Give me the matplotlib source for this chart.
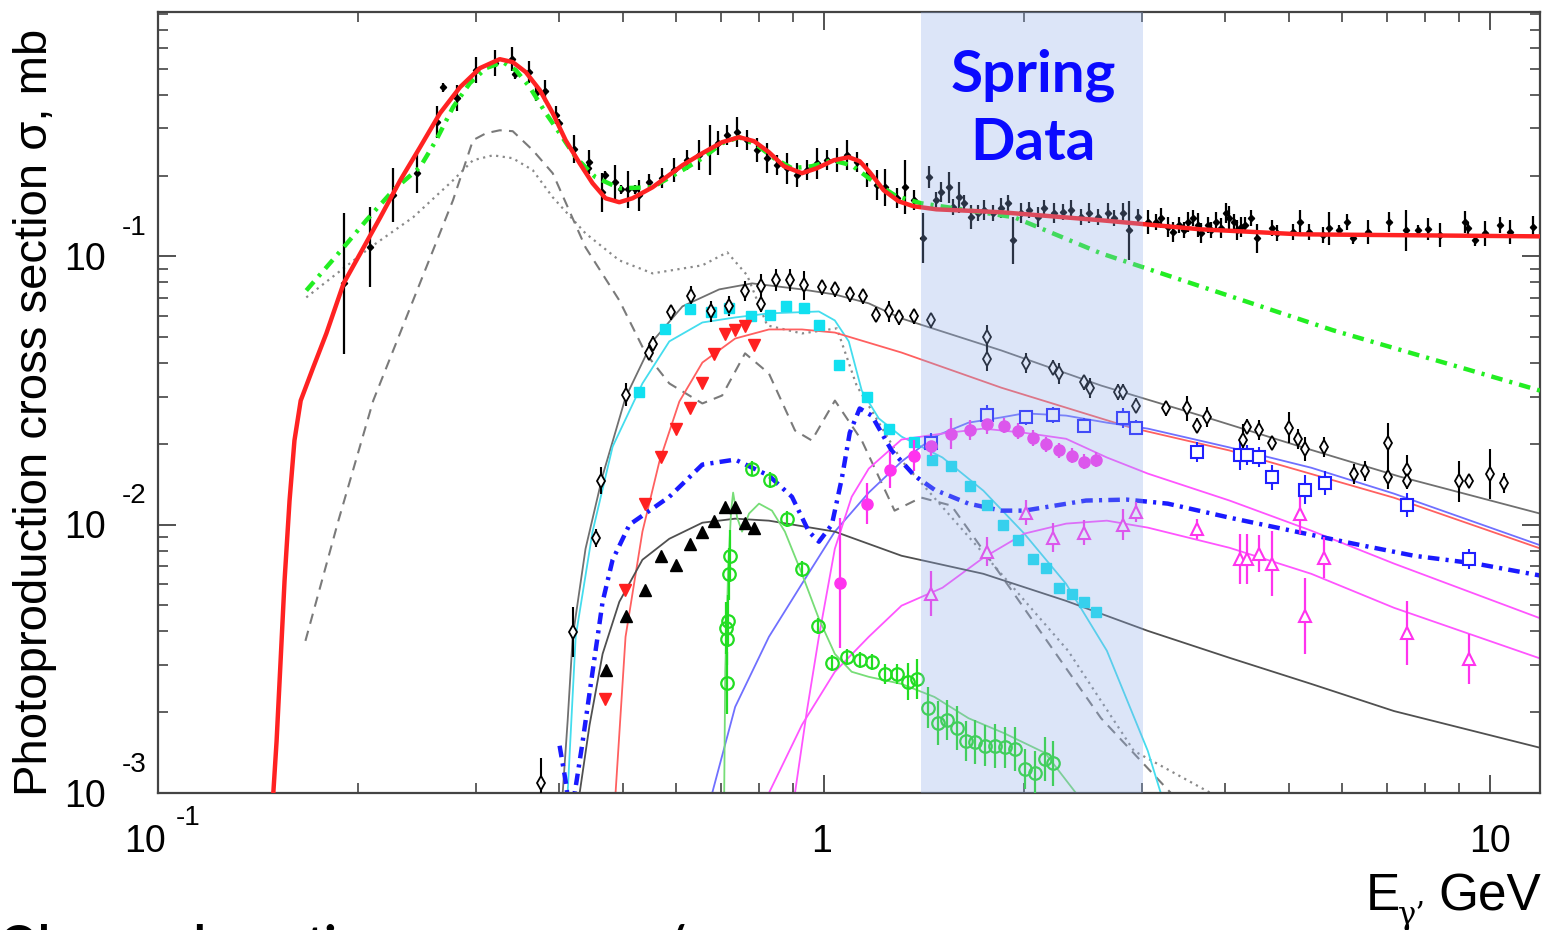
import numpy as np
import matplotlib
matplotlib.use('Agg')
import matplotlib.pyplot as plt

# ---------------- data (E in GeV, sigma in mb) ----------------
# total photoabsorption points
tot_e = [0.190, 0.2084, 0.2256, 0.245, 0.2625, 0.268, 0.2812, 0.3003, 0.3206, 0.34,
         0.3435, 0.3604, 0.3693, 0.3809, 0.3956, 0.3997, 0.4208, 0.4432, 0.4417, 0.4636,
         0.4686, 0.485, 0.4952, 0.5073, 0.5197, 0.5285, 0.547,
         0.572, 0.596, 0.6235, 0.65, 0.675, 0.694, 0.716, 0.741, 0.767, 0.794,
         0.822, 0.850, 0.880, 0.911, 0.943, 0.976, 1.010, 1.046, 1.082, 1.121,
         1.160, 1.200, 1.234, 1.286, 1.322, 1.368,
         1.411, 1.441, 1.476, 1.502, 1.539, 1.565, 1.598, 1.626, 1.666, 1.706,
         1.742, 1.797, 1.847, 1.892, 1.925, 1.979, 2.034, 2.098, 2.142, 2.217,
         2.287, 2.351, 2.433, 2.502, 2.581, 2.672, 2.727, 2.812, 2.871, 2.962,
         3.066, 3.152, 3.206, 3.285, 3.342, 3.412, 3.47, 3.519, 3.58, 3.642,
         3.681, 3.771, 3.81, 3.876, 3.943, 4.012, 4.053, 4.124, 4.18, 4.225,
         4.297, 4.373, 4.465, 4.717, 4.799, 5.072, 5.195, 5.358, 5.623, 5.741,
         5.943, 6.109, 6.237, 6.567, 7.06, 7.485, 7.802, 8.076, 8.417, 9.175,
         9.271, 9.496, 9.829, 10.35, 10.71, 11.6]
tot_s = [0.0793, 0.108, 0.1689, 0.2041, 0.3162, 0.427, 0.3887, 0.494, 0.525, 0.543,
         0.4776, 0.486, 0.4057, 0.4128, 0.3358, 0.3135, 0.2507, 0.2242, 0.213, 0.1733,
         0.2006, 0.1888, 0.1778, 0.1778, 0.1778, 0.1689, 0.1888,
         0.1954, 0.2094, 0.2281, 0.2382, 0.2486, 0.264, 0.2828, 0.2902, 0.271, 0.2486,
         0.2321, 0.2185, 0.213, 0.2006, 0.2094, 0.2223, 0.2281, 0.2281, 0.2382, 0.2242,
         0.2006, 0.1841, 0.1809, 0.1646, 0.1809, 0.1618,
         0.1167, 0.1972, 0.1618, 0.1733, 0.1809, 0.1523, 0.166, 0.1577, 0.1398, 0.1447,
         0.1485, 0.1447, 0.151, 0.1577, 0.1147, 0.1447, 0.1485, 0.1398, 0.151, 0.1447,
         0.146, 0.1485, 0.1398, 0.1447, 0.1398, 0.1447, 0.1386, 0.1447, 0.125, 0.1398,
         0.1339, 0.1339, 0.1386, 0.1283, 0.1229, 0.1305, 0.125, 0.1339, 0.1386, 0.1305,
         0.1218, 0.1305, 0.125, 0.1339, 0.1272, 0.1447, 0.1386, 0.1339, 0.125, 0.1283,
         0.1305, 0.1386, 0.1167, 0.1272, 0.1218, 0.1229, 0.1339, 0.1229, 0.1198, 0.1272,
         0.125, 0.1339, 0.1167, 0.1229, 0.1339, 0.125, 0.125, 0.1261, 0.1198, 0.1339,
         0.1272, 0.1147, 0.1218, 0.1305, 0.1229, 0.1283]
tot_f = [0.83, 0.41, 0.26, 0.19, 0.15, 0.04, 0.12, 0.12, 0.12, 0.11,
         0.04, 0.10, 0.07, 0.10, 0.08, 0.04, 0.13, 0.11, 0.04, 0.18,
         0.04, 0.16, 0.04, 0.17, 0.04, 0.14, 0.07,
         0.09, 0.11, 0.09, 0.14, 0.24, 0.11, 0.09, 0.14, 0.09, 0.11,
         0.14, 0.09, 0.14, 0.11, 0.09, 0.14, 0.09, 0.11, 0.14, 0.09,
         0.11, 0.14, 0.17, 0.09, 0.26, 0.09,
         0.24, 0.10, 0.07, 0.09, 0.14, 0.07, 0.14, 0.07, 0.11, 0.07,
         0.09, 0.07, 0.09, 0.07, 0.22, 0.09, 0.07, 0.09, 0.07, 0.09,
         0.07, 0.09, 0.07, 0.09, 0.07, 0.09, 0.07, 0.09, 0.29, 0.07,
         0.11, 0.07, 0.09, 0.09, 0.09, 0.07, 0.07, 0.09, 0.07, 0.11,
         0.09, 0.07, 0.07, 0.09, 0.09, 0.09, 0.11, 0.07, 0.09, 0.09,
         0.07, 0.07, 0.13, 0.07, 0.07, 0.07, 0.11, 0.07, 0.07, 0.15,
         0.05, 0.07, 0.05, 0.11, 0.09, 0.19, 0.05, 0.10, 0.11, 0.10,
         0.05, 0.05, 0.11, 0.07, 0.11, 0.10]

# total fit (red thick)
tfit_e = [0.149, 0.1507, 0.1528, 0.1549, 0.1576, 0.1603, 0.1638, 0.171, 0.179, 0.190,
          0.2013, 0.2157, 0.2311, 0.2475, 0.2652, 0.2842, 0.3045, 0.326, 0.341, 0.3567,
          0.3745, 0.3916, 0.4094, 0.4298, 0.4494, 0.470, 0.493, 0.516, 0.553, 0.6133,
          0.657, 0.7035, 0.746, 0.7856, 0.827, 0.871, 0.927, 0.976, 1.035, 1.090,
          1.132, 1.172, 1.23, 1.295, 1.364, 1.476, 1.847, 2.608, 3.68, 5.195, 11.9]
tfit_s = [0.001, 0.001563, 0.00311, 0.00618, 0.01229, 0.0206, 0.029, 0.0385, 0.0516, 0.0793,
          0.1026, 0.1398, 0.192, 0.2552, 0.3417, 0.427, 0.503, 0.543, 0.5295, 0.486,
          0.4163, 0.3417, 0.271, 0.2223, 0.1873, 0.1646, 0.1591, 0.1646, 0.1809, 0.2185,
          0.2423, 0.2664, 0.278, 0.2686, 0.2444, 0.2167, 0.2041, 0.213, 0.2281, 0.2341,
          0.2262, 0.2058, 0.1763, 0.1604, 0.1537, 0.1497, 0.146, 0.1363, 0.1261, 0.1208, 0.1187]

# green dash-dot
vmd_e = [0.167, 0.179, 0.190, 0.2055, 0.2256, 0.2475, 0.2617, 0.2774, 0.294, 0.311,
         0.3296, 0.3447, 0.3617, 0.3823, 0.401, 0.4239, 0.454, 0.493, 0.553, 0.6133,
         0.657, 0.7035, 0.746, 0.794, 0.8416, 0.8956, 0.959, 1.028, 1.101, 1.18,
         1.286, 1.40, 1.932, 2.608, 5.82, 11.9]
vmd_s = [0.0746, 0.0910, 0.108, 0.1362, 0.1763, 0.215, 0.271, 0.3597, 0.442, 0.503,
         0.5295, 0.494, 0.427, 0.3417, 0.2877, 0.2339, 0.1972, 0.1794, 0.1809, 0.2094,
         0.2321, 0.264, 0.278, 0.2595, 0.2321, 0.213, 0.2167, 0.2281, 0.2185, 0.192,
         0.1673, 0.1577, 0.1398, 0.1026, 0.053, 0.0316]

# gray dotted
dot_e = [0.167, 0.2084, 0.2416, 0.2774, 0.2972, 0.3185, 0.341, 0.3655, 0.3916, 0.4386,
         0.493, 0.553, 0.657, 0.716, 0.767, 0.822, 0.927, 1.046, 1.12, 1.308, 1.847,
         2.327, 2.922, 3.81]
dot_s = [0.0703, 0.108, 0.1398, 0.192, 0.2281, 0.238, 0.2321, 0.2094, 0.166, 0.1218,
         0.0966, 0.0864, 0.0926, 0.1035, 0.085, 0.0553, 0.0516, 0.0539, 0.033, 0.01734,
         0.00656, 0.00339, 0.001435, 0.001]

# gray dashed
dash_e = [0.1665, 0.1866, 0.2105, 0.2416, 0.2774, 0.2972, 0.311, 0.326, 0.341, 0.3655,
          0.3916, 0.4386, 0.493, 0.54, 0.586, 0.657, 0.7035, 0.7615, 0.827, 0.905,
          0.959, 1.039, 1.14, 1.277, 1.40, 1.554, 1.847, 2.608, 3.32]
dash_s = [0.00369, 0.01035, 0.029, 0.0685, 0.162, 0.271, 0.2877, 0.295, 0.2927, 0.2486,
          0.204, 0.108, 0.0685, 0.0435, 0.0336, 0.0283, 0.0303, 0.0435, 0.0366, 0.02244,
          0.0206, 0.029, 0.0206, 0.01128, 0.01262, 0.01178, 0.00646, 0.0019, 0.001]

# open diamonds + gray fit
dia_e = [0.3758, 0.4196, 0.4542, 0.4621, 0.5053, 0.547, 0.5546, 0.590, 0.6324, 0.6773,
         0.7206, 0.7615, 0.8048, 0.8048, 0.8476, 0.8894, 0.9334, 0.9931, 1.0387, 1.0937,
         1.1442, 1.1962, 1.2512, 1.2951, 1.3638, 1.4509, 1.760, 1.760, 2.0137, 2.2095,
         2.2558, 2.4593, 2.5107, 2.7644, 2.8125, 2.9416, 3.2622, 3.5065, 3.630, 3.757,
         4.268, 4.327, 4.510, 4.717, 5.002, 5.160, 5.286, 5.642, 6.258, 6.500,
         7.037, 7.037, 7.511, 7.511, 8.986, 9.302, 10.0, 10.49]
dia_s = [0.00109, 0.00399, 0.00894, 0.0146, 0.03055, 0.0438, 0.0473, 0.0618, 0.0709, 0.0623,
         0.0651, 0.0740, 0.0773, 0.0662, 0.0814, 0.0814, 0.0780, 0.0766, 0.0753, 0.0721,
         0.0709, 0.0607, 0.0623, 0.0592, 0.0597, 0.0577, 0.0499, 0.0416, 0.0399, 0.0385,
         0.0366, 0.0339, 0.0324, 0.0313, 0.0313, 0.0278, 0.0271, 0.0271, 0.0234, 0.0251,
         0.0206, 0.0232, 0.0226, 0.0202, 0.0230, 0.0209, 0.0191, 0.0194, 0.0155, 0.0159,
         0.0201, 0.0151, 0.0160, 0.0145, 0.0145, 0.0146, 0.0155, 0.0143]
dia_f = [0.24, 0.24, 0.08, 0.12, 0.10, 0.07, 0.07, 0.07, 0.09, 0.09,
         0.09, 0.09, 0.11, 0.07, 0.10, 0.10, 0.13, 0.07, 0.07, 0.07,
         0.07, 0.07, 0.09, 0.07, 0.07, 0.07, 0.11, 0.11, 0.09, 0.07,
         0.09, 0.07, 0.09, 0.07, 0.07, 0.07, 0.07, 0.11, 0.07, 0.09,
         0.15, 0.07, 0.09, 0.05, 0.14, 0.09, 0.11, 0.09, 0.09, 0.09,
         0.19, 0.11, 0.14, 0.07, 0.19, 0.05, 0.24, 0.09]
diafit_e = [0.4053, 0.4123, 0.4196, 0.4386, 0.4653, 0.5037, 0.5529, 0.6133, 0.6963, 0.7802,
            0.927, 1.0387, 1.168, 1.308, 1.847, 2.608, 3.68, 5.195, 7.33, 11.9]
diafit_s = [0.001, 0.001857, 0.00382, 0.00813, 0.01523, 0.02978, 0.0482, 0.0651, 0.0753, 0.0793,
            0.0753, 0.0721, 0.0668, 0.0587, 0.0446, 0.033, 0.0255, 0.01954, 0.0151, 0.011]

# cyan squares + cyan fit
cy_e = [0.5285, 0.578, 0.630, 0.6773, 0.7206, 0.7775, 0.830, 0.877, 0.9334, 0.983,
        1.053, 1.160, 1.2512, 1.3638, 1.456, 1.554, 1.660, 1.760, 1.860, 1.958,
        2.063, 2.157, 2.2558, 2.359, 2.4593, 2.563]
cy_s = [0.0311, 0.0534, 0.0634, 0.0618, 0.064, 0.0597, 0.0603, 0.0651, 0.0640, 0.0557,
        0.0392, 0.0298, 0.0228, 0.0204, 0.01748, 0.0166, 0.01398, 0.01187, 0.0100, 0.00879,
        0.00746, 0.00691, 0.00582, 0.00553, 0.00516, 0.00473]
cyfit_e = [0.4123, 0.4239, 0.4494, 0.4817, 0.534, 0.586, 0.657, 0.7359, 0.827, 0.983,
           1.0387, 1.090, 1.14, 1.209, 1.308, 1.507, 1.736, 2.0, 2.311, 2.661, 3.066, 3.206]
cyfit_s = [0.001, 0.00382, 0.00942, 0.01954, 0.0336, 0.0482, 0.0567, 0.0592, 0.0613, 0.0623,
           0.0577, 0.0482, 0.0316, 0.0249, 0.0213, 0.0178, 0.01339, 0.00926, 0.00602, 0.00339,
           0.001434, 0.001]

# red down triangles + red thin fit
rt_e = [0.4686, 0.502, 0.5395, 0.5702, 0.6004, 0.630, 0.657, 0.6845, 0.711, 0.7359, 0.7615, 0.7856]
rt_s = [0.002242, 0.00572, 0.01198, 0.01794, 0.0228, 0.0271, 0.0336, 0.0431, 0.0512, 0.053, 0.0548, 0.0469]
rtfit_e = [0.4866, 0.5037, 0.534, 0.5662, 0.6067, 0.657, 0.7359, 0.827, 0.927, 1.0387,
           1.308, 1.847, 2.891, 4.067, 7.183, 11.95]
rtfit_s = [0.001, 0.00382, 0.00942, 0.01718, 0.02877, 0.0402, 0.0494, 0.0534, 0.0534, 0.052,
           0.0438, 0.0324, 0.023, 0.0189, 0.0126, 0.00813]

# blue dash-dot
bdd_e = [0.401, 0.4094, 0.4165, 0.4253, 0.4342, 0.4494, 0.4653, 0.4817, 0.5106, 0.5395,
         0.586, 0.657, 0.7359, 0.827, 0.8956, 0.9495, 0.983, 1.028, 1.064, 1.0937,
         1.132, 1.18, 1.264, 1.368, 1.466, 1.649, 1.847, 2.0, 2.476, 2.851,
         3.284, 4.067, 5.036, 6.236, 7.694, 9.528, 11.96]
bdd_s = [0.0015, 0.00111, 0.0008, 0.00111, 0.00155, 0.00283, 0.00516, 0.0074, 0.0100, 0.0110,
         0.0127, 0.01675, 0.01748, 0.01523, 0.0127, 0.00942, 0.00864, 0.0100, 0.01485, 0.0220,
         0.0271, 0.0255, 0.0189, 0.01523, 0.0135, 0.01198, 0.01128, 0.01128, 0.0123, 0.0124,
         0.01198, 0.01062, 0.0095, 0.0085, 0.00766, 0.00716, 0.00645]

# blue open squares + blue fit
bs_e = [1.4509, 1.760, 2.0137, 2.2095, 2.4593, 2.8125, 2.9416, 3.630, 4.21, 4.327,
        4.51, 4.717, 5.286, 5.662, 7.511, 9.302]
bs_s = [0.0202, 0.0257, 0.0251, 0.0257, 0.0234, 0.0249, 0.023, 0.0187, 0.01825, 0.01825,
        0.01794, 0.0150, 0.0135, 0.01434, 0.01187, 0.00746]
bs_f = [0.09, 0.09, 0.07, 0.07, 0.07, 0.09, 0.07, 0.09, 0.14, 0.09,
        0.09, 0.11, 0.13, 0.11, 0.11, 0.09]
bsfit_e = [0.6797, 0.7359, 0.827, 0.927, 1.0387, 1.168, 1.308, 1.466, 1.649, 1.847,
           2.0, 2.311, 2.661, 3.066, 4.067, 5.395, 7.183, 11.96]
bsfit_s = [0.001, 0.002094, 0.00382, 0.00602, 0.00942, 0.01317, 0.01718, 0.0213, 0.024, 0.0251,
           0.026, 0.0255, 0.024, 0.0228, 0.0194, 0.0163, 0.01305, 0.00835]

# magenta filled circles + fit
mc_e = [1.057, 1.160, 1.255, 1.3638, 1.4509, 1.554, 1.660, 1.760, 1.866, 1.958,
        2.063, 2.157, 2.2558, 2.359, 2.4593, 2.563]
mc_s = [0.00607, 0.01198, 0.016, 0.0181, 0.0197, 0.02186, 0.0226, 0.0238, 0.0234, 0.0224,
        0.0211, 0.0199, 0.0189, 0.0181, 0.01718, 0.01748]
mc_f = [0.75, 0.19, 0.17, 0.14, 0.09, 0.14, 0.09, 0.09, 0.07, 0.07,
        0.07, 0.07, 0.07, 0.07, 0.07, 0.07]
mcfit_e = [0.905, 0.943, 0.983, 1.0387, 1.101, 1.168, 1.308, 1.507, 1.736, 2.0,
           2.311, 2.661, 3.066, 4.067, 5.395, 7.183, 11.96]
mcfit_s = [0.001, 0.00202, 0.00382, 0.00813, 0.0127, 0.01618, 0.02076, 0.02186, 0.0228, 0.022,
           0.0209, 0.0178, 0.0155, 0.0123, 0.0095, 0.00716, 0.00446]

# magenta open triangles + fit
mt_e = [1.4509, 1.760, 2.0137, 2.2095, 2.4593, 2.8125, 2.9416, 3.630, 4.21, 4.327,
        4.51, 4.717, 5.195, 5.286, 5.642, 7.511, 9.302]
mt_s = [0.00553, 0.00793, 0.0111, 0.00894, 0.00934, 0.0100, 0.01118, 0.00966, 0.00746, 0.00746,
        0.0078, 0.00716, 0.0110, 0.00457, 0.00753, 0.00395, 0.00316]
mt_f = [0.21, 0.13, 0.11, 0.13, 0.11, 0.14, 0.09, 0.09, 0.24, 0.24,
        0.17, 0.32, 0.19, 0.39, 0.19, 0.32, 0.24]
mtfit_e = [0.827, 0.927, 1.0387, 1.168, 1.308, 1.507, 1.736, 2.0, 2.311, 2.661,
           3.066, 4.067, 5.395, 7.183, 11.96]
mtfit_s = [0.001, 0.001794, 0.00283, 0.00382, 0.00499, 0.00582, 0.00753, 0.00926, 0.01009, 0.01035,
           0.00975, 0.0082, 0.00656, 0.0049, 0.00316]

# black filled triangles + fit
bt_e = [0.470, 0.5037, 0.5395, 0.5702, 0.6004, 0.630, 0.657, 0.6845, 0.711, 0.7359, 0.7615, 0.7856]
bt_s = [0.00288, 0.00457, 0.00572, 0.00766, 0.00709, 0.0085, 0.00942, 0.01035, 0.01167, 0.01167, 0.01017, 0.00975]
btfit_e = [0.4298, 0.4448, 0.4653, 0.493, 0.534, 0.586, 0.657, 0.7359, 0.827, 1.0387,
           1.308, 1.736, 2.311, 3.066, 4.067, 5.395, 7.183, 11.96]
btfit_s = [0.001, 0.001794, 0.0033, 0.00516, 0.0074, 0.00886, 0.01017, 0.01053, 0.01035, 0.00942,
           0.00766, 0.00656, 0.0052, 0.00402, 0.00319, 0.00255, 0.00202, 0.00147]

# green open circles + fit
gc_e = [0.716, 0.716, 0.7135, 0.7185, 0.7206, 0.7233, 0.7802, 0.830, 0.880, 0.927,
        0.9795, 1.028, 1.082, 1.132, 1.18, 1.234, 1.286, 1.336, 1.382, 1.436,
        1.486, 1.533, 1.587, 1.637, 1.689, 1.748, 1.809, 1.873, 1.938, 2.006,
        2.077, 2.149, 2.2095]
gc_s = [0.00257, 0.00375, 0.00413, 0.00438, 0.00656, 0.00766, 0.01618, 0.01472, 0.01053, 0.00685,
        0.0042, 0.00305, 0.00322, 0.00313, 0.00308, 0.00278, 0.00278, 0.0026, 0.00266, 0.00208,
        0.00182, 0.00187, 0.00175, 0.00156, 0.00155, 0.0015, 0.0015, 0.00148, 0.00146, 0.00123,
        0.00119, 0.00134, 0.00129]
gc_f = [0.30, 0.25, 0.25, 0.25, 0.25, 0.25, 0.07, 0.07, 0.07, 0.07,
        0.07, 0.07, 0.07, 0.07, 0.07, 0.09, 0.09, 0.17, 0.19, 0.19,
        0.21, 0.19, 0.21, 0.19, 0.21, 0.19, 0.21, 0.19, 0.21, 0.19,
        0.21, 0.21, 0.21]
gcfit_e = [0.7085, 0.711, 0.7185, 0.7257, 0.7307, 0.741, 0.7536, 0.772, 0.7992, 0.8358,
           0.874, 0.927, 0.983, 1.0387, 1.101, 1.168, 1.308, 1.466, 1.649, 1.866, 2.149, 2.391]
gcfit_s = [0.001, 0.00283, 0.00697, 0.01128, 0.01317, 0.01062, 0.00942, 0.011, 0.01198, 0.01128,
           0.00942, 0.00656, 0.00446, 0.0033, 0.00283, 0.00271, 0.00255, 0.00228, 0.0019, 0.00167,
           0.00141, 0.001]

band_lo, band_hi = 1.4, 3.02


def logerr(y, f):
    y = np.asarray(y)
    f = np.asarray(f)
    return [y - y / (1 + f), y * f]


plt.rcParams['font.family'] = ['Liberation Sans', 'DejaVu Sans']
plt.rcParams['lines.solid_joinstyle'] = 'round'
plt.rcParams['lines.dash_joinstyle'] = 'round'

fig = plt.figure(figsize=(15.45, 9.3), dpi=100)
ax = fig.add_axes([158 / 1545, 1 - 793 / 930, (1540 - 158) / 1545, (793 - 12) / 930])
ax.set_xscale('log')
ax.set_yscale('log')
ax.set_xlim(0.1, 11.9)
ax.set_ylim(0.001, 0.814)

# model curves
ax.plot(dot_e, dot_s, color='#8a8a8a', lw=1.6, ls=(0, (1, 2)), zorder=2)
ax.plot(dash_e, dash_s, color='#7a7a7a', lw=1.5, ls=(0, (5, 3.5)), zorder=2)
ax.plot(diafit_e, diafit_s, color='#707070', lw=1.3, zorder=2)
ax.plot(cyfit_e, cyfit_s, color='#44ddee', lw=1.3, zorder=2)
ax.plot(rtfit_e, rtfit_s, color='#ff6060', lw=1.3, zorder=2)
ax.plot(bsfit_e, bsfit_s, color='#7070ff', lw=1.3, zorder=2)
ax.plot(mcfit_e, mcfit_s, color='#ff55ff', lw=1.3, zorder=2)
ax.plot(mtfit_e, mtfit_s, color='#ff55ff', lw=1.3, zorder=2)
ax.plot(btfit_e, btfit_s, color='#505050', lw=1.3, zorder=2)
ax.plot(gcfit_e, gcfit_s, color='#77dd77', lw=1.3, zorder=2)
ax.plot(bdd_e, bdd_s, color='#1a1aff', lw=3.2, ls=(0, (2.6, 1.4, 0.7, 1.4)), zorder=2)

# data points
ax.errorbar(tot_e, tot_s, yerr=logerr(tot_s, tot_f), fmt='D', ms=3.2, color='black',
            elinewidth=1.6, capsize=0, zorder=3)
ax.errorbar(dia_e, dia_s, yerr=logerr(dia_s, dia_f), fmt='d', ms=7, mfc='white', mec='black',
            mew=1.3, ecolor='black', elinewidth=1.5, capsize=0, zorder=3)
ax.plot(cy_e, cy_s, 's', ms=7, color='#11e0f0', zorder=3)
ax.plot(rt_e, rt_s, 'v', ms=8, color='#ff2020', zorder=3)
ax.plot(bt_e, bt_s, '^', ms=8, color='black', zorder=3)
ax.errorbar(bs_e, bs_s, yerr=logerr(bs_s, bs_f), fmt='s', ms=9, mfc='white', mec='#2020ff',
            mew=1.5, ecolor='#2020ff', elinewidth=1.5, capsize=0, zorder=3)
ax.errorbar(mc_e, mc_s, yerr=logerr(mc_s, mc_f), fmt='o', ms=8, color='#ff33ee',
            elinewidth=1.6, capsize=0, zorder=3)
ax.errorbar(mt_e, mt_s, yerr=logerr(mt_s, mt_f), fmt='^', ms=9, mfc='white', mec='#ff33ee',
            mew=1.5, ecolor='#ff33ee', elinewidth=1.6, capsize=0, zorder=3)
ax.errorbar(gc_e, gc_s, yerr=logerr(gc_s, gc_f), fmt='o', ms=9, mfc='none', mec='#22dd22',
            mew=1.6, ecolor='#22dd22', elinewidth=1.6, capsize=0, zorder=3)

ax.plot(vmd_e, vmd_s, color='#22ee22', lw=3.2, ls=(0, (2.6, 1.6, 0.7, 1.6)), zorder=4)
ax.plot(tfit_e, tfit_s, color='#ff2222', lw=3.2, zorder=4)

# spring data band
ax.axvspan(band_lo, band_hi, color='#8eace8', alpha=0.3, lw=0, zorder=5)
ax.text(1033 / 1545, 1 - 92 / 930, 'Spring', transform=fig.transFigure, ha='center',
        va='baseline', fontsize=42, fontweight='bold', family=['Lato', 'DejaVu Sans'],
        color='#0a0aff', zorder=6)
ax.text(1033 / 1545, 1 - 160 / 930, 'Data', transform=fig.transFigure, ha='center',
        va='baseline', fontsize=42, fontweight='bold', family=['Lato', 'DejaVu Sans'],
        color='#0a0aff', zorder=6)

# axes style
for sp in ax.spines.values():
    sp.set_color('#444444')
    sp.set_linewidth(1.6)
ax.tick_params(which='both', direction='in', top=True, right=True, colors='#444444',
               labelbottom=False, labelleft=False)
ax.tick_params(which='major', length=13, width=1.3)
ax.tick_params(which='minor', length=7, width=1.2)

# tick labels drawn by hand to mimic the gapped exponent style
fs = 27
fig.text(145 / 1545, 1 - 852 / 930, '10', fontsize=fs, ha='center', va='baseline')
fig.text(188 / 1545, 1 - 825 / 930, '-1', fontsize=20, ha='center', va='baseline')
fig.text(822 / 1545, 1 - 852 / 930, '1', fontsize=fs, ha='center', va='baseline')
fig.text(1490 / 1545, 1 - 852 / 930, '10', fontsize=fs, ha='center', va='baseline')
for py, lab in [(256, '-1'), (524, '-2'), (793, '-3')]:
    fig.text(106 / 1545, 1 - (py + 14) / 930, '10', fontsize=fs, ha='right', va='baseline')
    fig.text(134 / 1545, 1 - (py - 21) / 930, lab, fontsize=20, ha='center', va='baseline')

fig.text(35 / 1545, 1 - 412 / 930, 'Photoproduction cross section σ, mb', rotation=90,
         fontsize=34, ha='center', va='center')
fig.text(1366 / 1545, 1 - 910 / 930, 'E', fontsize=37, ha='left', va='baseline')
fig.text(1398 / 1545, 1 - 924 / 930, 'γ’', fontsize=22, ha='left', va='baseline',
         family=['DejaVu Serif'])
fig.text(1541 / 1545, 1 - 910 / 930, 'GeV', fontsize=37, ha='right', va='baseline')

# caption line cut by the bottom edge, as in the source slide
fig.text(0.0, 1 - 960 / 930, 'Observed reactions', fontsize=34, fontweight='bold',
         family=['Lato', 'DejaVu Sans'], ha='left', va='baseline')
fig.text(580 / 1545, 1 - 960 / 930, 'π', fontsize=34, fontweight='bold',
         family=['Lato', 'DejaVu Sans'], ha='center', va='baseline')
fig.text(675 / 1545, 1 - 960 / 930, '/', fontsize=34, fontweight='bold',
         family=['Lato', 'DejaVu Sans'], ha='center', va='baseline')
fig.text(704 / 1545, 1 - 960 / 930, 'π', fontsize=34, fontweight='bold',
         family=['Lato', 'DejaVu Sans'], ha='center', va='baseline')

fig.savefig('out.png', dpi=100)
